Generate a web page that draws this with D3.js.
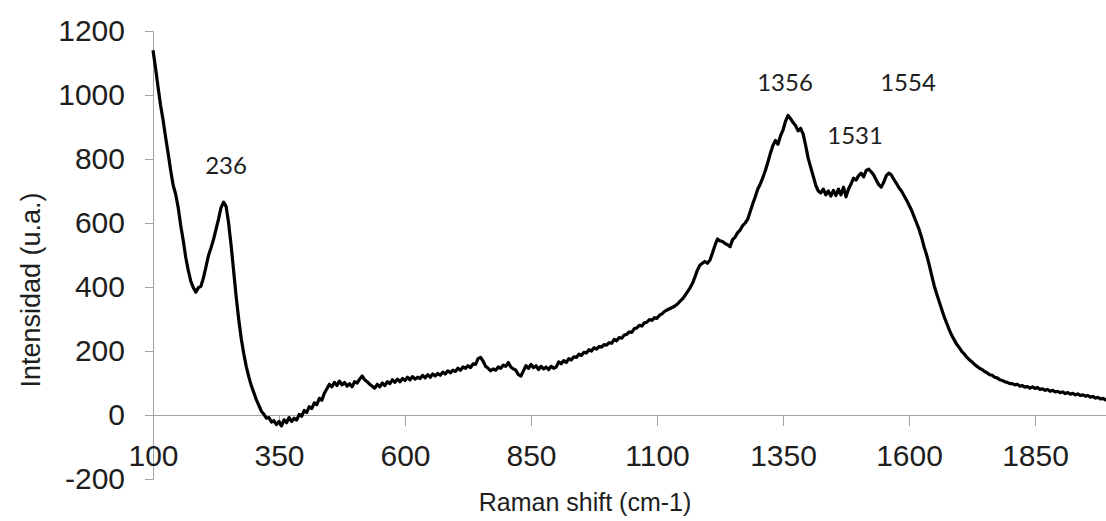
<!DOCTYPE html>
<html><head><meta charset="utf-8">
<script src="https://cdn.jsdelivr.net/npm/d3@7/dist/d3.min.js"></script>
<style>body{margin:0;background:#fff}svg{display:block}</style>
</head><body>
<svg id="chart" width="1106" height="521"></svg>
<script>
const ramanShift = [
100,105,110,115,120,125,130,135,140,145,150,155,160,165,170,175,180,185,190,195,
200,205,210,215,220,225,230,235,240,245,250,255,260,265,270,275,280,285,290,295,
300,305,310,315,320,325,330,335,340,345,350,355,360,365,370,375,380,385,390,395,
400,405,410,415,420,425,430,435,440,445,450,455,460,465,470,475,480,485,490,495,
500,505,510,515,520,525,530,535,540,545,550,555,560,565,570,575,580,585,590,595,
600,605,610,615,620,625,630,635,640,645,650,655,660,665,670,675,680,685,690,695,
700,705,710,715,720,725,730,735,740,745,750,755,760,765,770,775,780,785,790,795,
800,805,810,815,820,825,830,835,840,845,850,855,860,865,870,875,880,885,890,895,
900,905,910,915,920,925,930,935,940,945,950,955,960,965,970,975,980,985,990,995,
1000,1005,1010,1015,1020,1025,1030,1035,1040,1045,1050,1055,1060,1065,1070,1075,1080,1085,1090,1095,
1100,1105,1110,1115,1120,1125,1130,1135,1140,1145,1150,1155,1160,1165,1170,1175,1180,1185,1190,1195,
1200,1205,1210,1215,1220,1225,1230,1235,1240,1245,1250,1255,1260,1265,1270,1275,1280,1285,1290,1295,
1300,1305,1310,1315,1320,1325,1330,1335,1340,1345,1350,1355,1360,1365,1370,1375,1380,1385,1390,1395,
1400,1405,1410,1415,1420,1425,1430,1435,1440,1445,1450,1455,1460,1465,1470,1475,1480,1485,1490,1495,
1500,1505,1510,1515,1520,1525,1530,1535,1540,1545,1550,1555,1560,1565,1570,1575,1580,1585,1590,1595,
1600,1605,1610,1615,1620,1625,1630,1635,1640,1645,1650,1655,1660,1665,1670,1675,1680,1685,1690,1695,
1700,1705,1710,1715,1720,1725,1730,1735,1740,1745,1750,1755,1760,1765,1770,1775,1780,1785,1790,1795,
1800,1805,1810,1815,1820,1825,1830,1835,1840,1845,1850,1855,1860,1865,1870,1875,1880,1885,1890,1895,
1900,1905,1910,1915,1920,1925,1930,1935,1940,1945,1950,1955,1960,1965,1970,1975,1980,1985,1990,1995,
2000];
const intensity = [
1140,1085,1025,968,922,868,818,765,718,690,648,592,545,492,452,418,398,384,398,402,
428,462,498,522,548,580,612,648,665,652,600,530,450,370,300,240,192,152,120,92,
70,48,30,12,2,-10,-8,-22,-18,-30,-20,-34,-15,-24,-8,-20,-10,-16,2,-4,
14,8,26,20,38,32,52,46,68,82,96,88,102,92,106,94,102,90,98,88,
104,100,112,122,110,104,96,90,84,96,88,100,92,104,98,110,102,112,104,114,
108,118,110,120,112,118,114,124,116,126,118,128,122,130,124,134,128,138,132,140,
136,146,140,150,146,154,148,160,158,176,180,168,152,146,138,144,140,150,146,156,
152,164,150,144,140,126,122,138,154,146,158,148,154,142,152,144,150,142,152,146,
150,166,160,170,164,176,172,182,180,190,186,196,194,204,200,210,206,214,212,220,
218,226,224,236,232,242,240,250,252,260,258,270,272,280,278,288,290,298,296,304,
302,312,316,324,328,332,336,340,346,354,362,372,384,396,410,430,452,468,474,480,
474,484,506,530,550,544,542,536,532,526,548,556,570,578,592,600,612,636,660,682,
706,722,742,764,790,818,842,858,846,872,890,918,936,926,914,904,888,896,878,842,
802,774,746,718,700,694,706,688,700,684,702,686,706,688,712,682,706,722,740,734,
748,756,744,764,768,760,750,734,720,712,728,748,756,750,736,724,710,700,686,672,
656,640,620,600,580,555,525,500,470,436,404,378,354,330,306,286,266,248,234,220,
210,198,190,180,172,166,158,152,146,142,136,132,126,124,118,116,110,108,104,102,
98,98,94,96,90,92,87,89,84,88,83,86,80,82,77,80,74,77,72,74,
70,72,67,70,65,68,63,66,61,63,59,61,56,58,53,55,50,52,47,48,
45];
const xTickValues = [100,350,600,850,1100,1350,1600,1850];
const yTickValues = [-200,0,200,400,600,800,1000,1200];
const peakLabels = ["236","1356","1531","1554"];
const peakLabelX = [245,1354,1493,1598];
const peakLabelY = [752,1011,848,1011];

const svg = d3.select("#chart");
const x = d3.scaleLinear().domain([100,2000]).range([153,153+1900*0.504]);
const y = d3.scaleLinear().domain([-200,1200]).range([479,31]);
const axisColor = "#a3a3a3";
const tickFont = "Liberation Sans, Arial, sans-serif";
const textColor = "#1e1e1e";

// Y axis (crossing at x=100)
const yAxis = svg.append("g").attr("transform",`translate(${x(100)},0)`)
  .call(d3.axisLeft(y).tickValues(yTickValues).tickSize(8).tickPadding(20).tickFormat(d=>String(d)));
yAxis.select(".domain").attr("stroke",axisColor).attr("stroke-width",1);
yAxis.selectAll(".tick line").attr("stroke",axisColor);
yAxis.selectAll(".tick text").attr("font-family",tickFont).attr("font-size",30).attr("fill",textColor);

// X axis (crossing at y=0)
const xAxis = svg.append("g").attr("transform",`translate(0,${y(0)})`)
  .call(d3.axisBottom(x).tickValues(xTickValues).tickSize(11).tickPadding(19).tickFormat(d=>String(d)));
xAxis.select(".domain").attr("stroke",axisColor).attr("stroke-width",1);
xAxis.selectAll(".tick line").attr("stroke",axisColor);
xAxis.selectAll(".tick text").attr("font-family",tickFont).attr("font-size",30).attr("fill",textColor);

// Spectrum line
const pts = ramanShift.map((d,i)=>[d,intensity[i]]);
svg.append("path").datum(pts)
  .attr("fill","none").attr("stroke","#000").attr("stroke-width",3.2).attr("stroke-linejoin","round")
  .attr("d", d3.line().x(d=>x(d[0])).y(d=>y(d[1])));

// Peak labels
svg.append("g").selectAll("text").data(peakLabels).join("text")
  .attr("x",(d,i)=>x(peakLabelX[i])).attr("y",(d,i)=>y(peakLabelY[i]))
  .attr("text-anchor","middle").attr("font-family","Lato, Carlito, Calibri, sans-serif")
  .attr("font-size",24).attr("fill",textColor).text(d=>d);

// Axis titles
svg.append("text").attr("x",585).attr("y",511).attr("text-anchor","middle")
  .attr("font-family",tickFont).attr("font-size",25).attr("fill",textColor).text("Raman shift (cm-1)");
svg.append("text").attr("transform","translate(40,290) rotate(-90)").attr("text-anchor","middle")
  .attr("font-family",tickFont).attr("font-size",27).attr("fill",textColor).text("Intensidad (u.a.)");
</script>
</body></html>
